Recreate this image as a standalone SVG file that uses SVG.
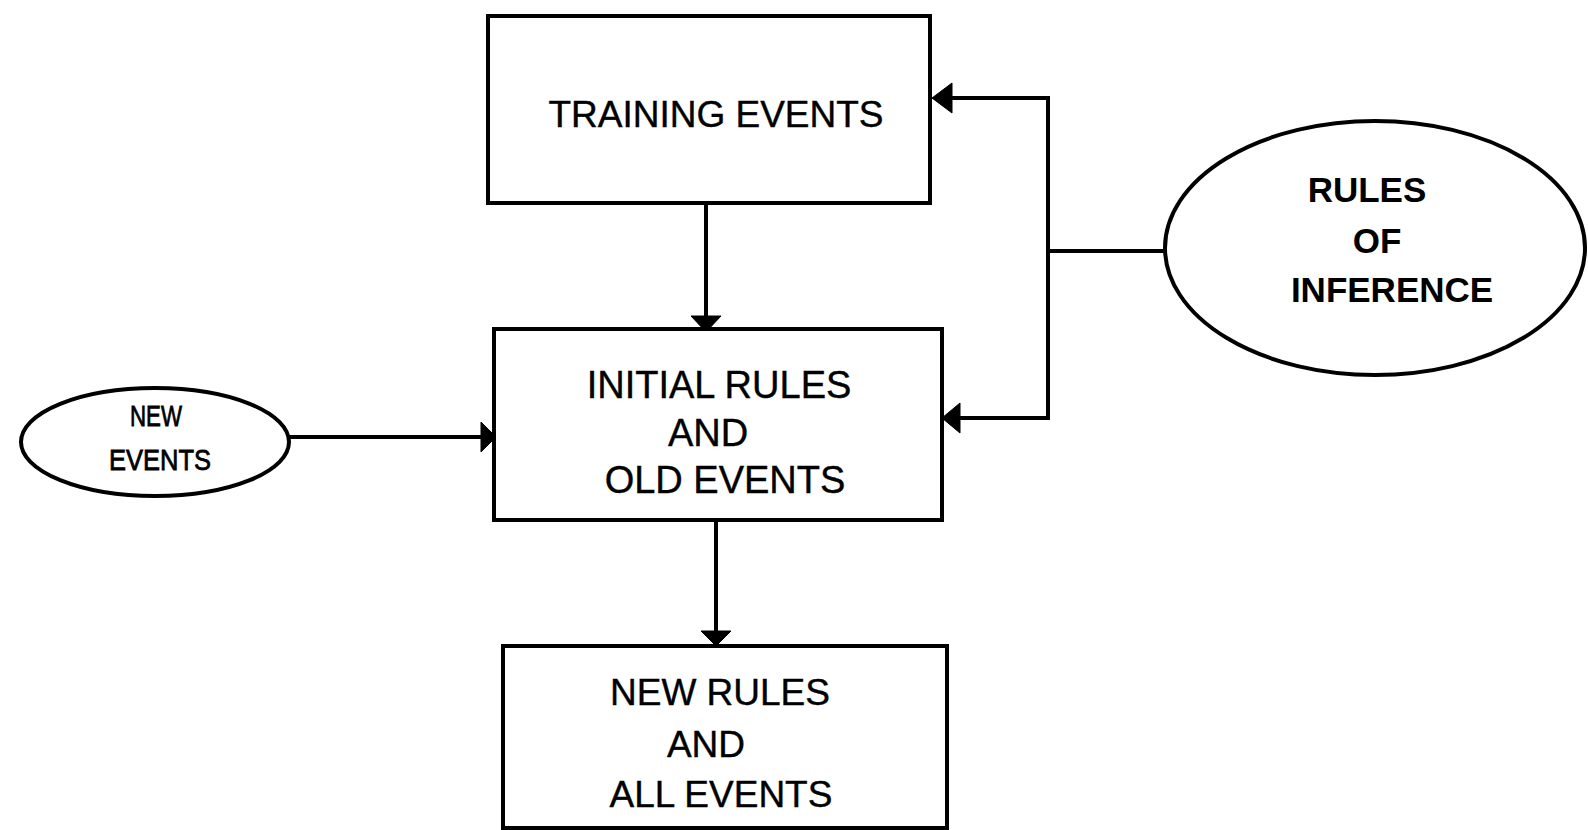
<svg xmlns="http://www.w3.org/2000/svg" width="1588" height="830" viewBox="0 0 1588 830">
<style>
  .box { fill: #fff; stroke: #000; stroke-width: 4; }
  .ell { fill: #fff; stroke: #000; stroke-width: 4; }
  .line { fill: none; stroke: #000; stroke-width: 4; }
  .head { fill: #000; stroke: #000; stroke-width: 1; }
  .t { font-family: "Liberation Sans", Arial, sans-serif; font-size: 37px; fill: #000; text-anchor: middle; stroke: #000; stroke-width: 0.4; }
  .tb { font-weight: bold; font-size: 35px; stroke-width: 0; }
  .ts { font-size: 29px; stroke-width: 0.8; }
</style>
<rect width="1588" height="830" fill="#fff"/>
<g id="connectors">
  <line class="line" x1="706" y1="203" x2="706" y2="318"/>
  <polygon class="head" points="691,316 721,316 706,332"/>
  <line class="line" x1="716" y1="520" x2="716" y2="633"/>
  <polygon class="head" points="701,631 731,631 716,646"/>
  <line class="line" x1="290" y1="437" x2="483" y2="437"/>
  <polygon class="head" points="481,422 481,452 496,437"/>
  <polyline class="line" points="948,98 1048,98 1048,418 958,418"/>
  <polygon class="head" points="952,83 952,113 932,98"/>
  <polygon class="head" points="960,403 960,433 942,418"/>
  <line class="line" x1="1048" y1="251" x2="1165" y2="251"/>
</g>
<g id="training-events">
  <rect class="box" x="488" y="16" width="442" height="187"/>
  <text class="t" x="716" y="127">TRAINING EVENTS</text>
</g>
<g id="initial-rules">
  <rect class="box" x="494" y="329" width="448" height="191"/>
  <text class="t" x="719" y="398" style="font-size:38px">INITIAL RULES</text>
  <text class="t" x="708" y="446" style="font-size:38px">AND</text>
  <text class="t" x="725" y="493" style="font-size:38px">OLD EVENTS</text>
</g>
<g id="new-rules">
  <rect class="box" x="503" y="646" width="444" height="182"/>
  <text class="t" x="720" y="705">NEW RULES</text>
  <text class="t" x="706" y="757">AND</text>
  <text class="t" x="721" y="807">ALL EVENTS</text>
</g>
<g id="rules-of-inference">
  <ellipse class="ell" cx="1375" cy="248" rx="210" ry="127"/>
  <text class="t tb" x="1367" y="202">RULES</text>
  <text class="t tb" x="1377" y="253">OF</text>
  <text class="t tb" x="1392" y="302">INFERENCE</text>
</g>
<g id="new-events">
  <ellipse class="ell" cx="155" cy="442" rx="134" ry="54"/>
  <text class="t ts" x="156" y="426" textLength="52" lengthAdjust="spacingAndGlyphs">NEW</text>
  <text class="t ts" x="160" y="470" textLength="102" lengthAdjust="spacingAndGlyphs">EVENTS</text>
</g>
</svg>
